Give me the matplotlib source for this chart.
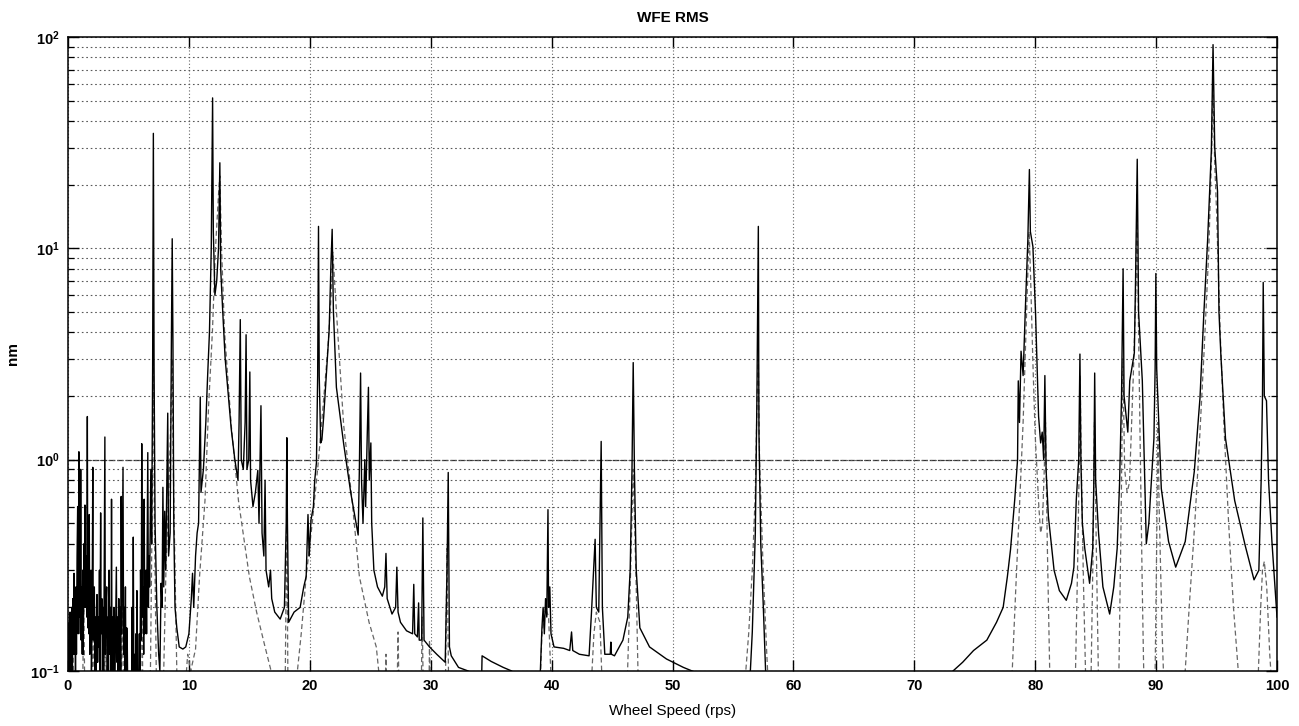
import matplotlib
matplotlib.use("Agg")
import matplotlib.pyplot as plt
from matplotlib.ticker import LogLocator, NullFormatter

# ---- data (wheel speed [rps], WFE RMS [nm]) ----
# values below 0.1 lie under the axis floor and are clipped
solid_points = [
    (0.0, 0.07), (0.05, 0.14), (0.08, 0.07), (0.1, 0.17), (0.13, 0.08), (0.17, 0.19), (0.2, 0.09),
    (0.24, 0.16), (0.28, 0.1), (0.32, 0.2), (0.36, 0.09), (0.4, 0.22), (0.44, 0.12), (0.5, 0.29),
    (0.54, 0.12), (0.58, 0.2), (0.62, 0.1), (0.66, 0.25), (0.7, 0.12), (0.75, 0.35), (0.8, 0.6),
    (0.84, 0.15), (0.9, 1.09), (0.94, 0.18), (0.98, 0.3), (1.02, 0.15), (1.05, 0.9), (1.09, 0.14),
    (1.14, 0.25), (1.18, 0.12), (1.22, 0.3), (1.26, 0.12), (1.32, 0.4), (1.36, 0.2), (1.4, 0.61),
    (1.44, 0.2), (1.5, 0.35), (1.55, 0.18), (1.6, 1.6), (1.64, 0.16), (1.68, 0.3), (1.72, 0.15),
    (1.76, 0.55), (1.8, 0.12), (1.85, 0.22), (1.9, 0.3), (1.94, 0.1), (2.0, 0.2), (2.05, 0.92),
    (2.09, 0.14), (2.14, 0.2), (2.18, 0.25), (2.22, 0.1), (2.27, 0.18), (2.32, 0.08), (2.36, 0.2),
    (2.4, 0.23), (2.45, 0.11), (2.5, 0.18), (2.55, 0.13), (2.6, 0.3), (2.64, 0.1), (2.7, 0.56),
    (2.74, 0.15), (2.8, 0.22), (2.85, 0.1), (2.9, 0.2), (2.95, 0.09), (3.05, 1.28), (3.09, 0.12),
    (3.14, 0.2), (3.2, 0.25), (3.25, 0.08), (3.3, 0.18), (3.35, 0.1), (3.4, 0.3), (3.45, 0.12),
    (3.52, 0.2), (3.56, 0.1), (3.6, 0.65), (3.64, 0.1), (3.7, 0.18), (3.76, 0.08), (3.8, 0.2),
    (3.86, 0.07), (3.93, 0.15), (4.0, 0.31), (4.05, 0.11), (4.1, 0.18), (4.15, 0.09), (4.2, 0.22),
    (4.26, 0.09), (4.32, 0.2), (4.36, 0.1), (4.4, 0.67), (4.45, 0.15), (4.55, 0.92), (4.6, 0.12),
    (4.66, 0.2), (4.7, 0.1), (4.75, 0.25), (4.8, 0.08), (4.86, 0.16), (4.9, 0.14), (4.95, 0.07),
    (5.25, 0.07), (5.3, 0.2), (5.34, 0.07), (5.4, 0.43), (5.45, 0.08), (5.52, 0.12), (5.56, 0.07),
    (5.62, 0.15), (5.66, 0.08), (5.7, 0.24), (5.75, 0.07), (5.85, 0.1), (5.9, 0.15), (5.95, 0.08),
    (6.0, 0.3), (6.06, 0.14), (6.1, 1.19), (6.15, 0.18), (6.22, 0.25), (6.26, 0.12), (6.3, 0.65),
    (6.35, 0.15), (6.4, 0.25), (6.45, 0.3), (6.5, 0.15), (6.55, 0.4), (6.6, 1.08), (6.65, 0.2),
    (6.7, 0.35), (6.75, 0.25), (6.8, 0.5), (6.85, 0.9), (6.92, 0.4), (7.0, 2.7), (7.06, 35.0),
    (7.12, 2.7), (7.2, 0.5), (7.35, 0.2), (7.5, 0.12), (7.6, 0.1), (7.7, 0.26), (7.78, 0.2),
    (7.85, 0.74), (7.92, 0.25), (8.0, 0.57), (8.08, 0.3), (8.25, 1.66), (8.32, 0.35), (8.45, 0.45),
    (8.55, 3.56), (8.62, 11.1), (8.68, 3.56), (8.75, 0.5), (8.85, 0.2), (9.0, 0.16), (9.2, 0.13),
    (9.5, 0.127), (9.74, 0.13), (10.0, 0.15), (10.2, 0.22), (10.3, 0.29), (10.4, 0.2), (10.55, 0.35),
    (10.68, 0.45), (10.8, 0.5), (10.94, 1.98), (11.0, 0.7), (11.2, 0.9), (11.4, 1.5), (11.55, 2.5),
    (11.7, 4.0), (11.85, 10.0), (11.96, 51.5), (12.02, 12.0), (12.15, 6.0), (12.3, 7.0),
    (12.45, 10.0), (12.56, 25.4), (12.63, 8.0), (12.8, 5.0), (13.0, 3.0), (13.2, 2.2), (13.5, 1.4),
    (13.8, 1.0), (14.06, 0.8), (14.15, 1.5), (14.25, 4.6), (14.33, 1.0), (14.5, 0.9), (14.65, 1.5),
    (14.73, 3.9), (14.8, 0.9), (14.95, 1.0), (15.04, 2.6), (15.1, 0.8), (15.3, 0.6), (15.5, 0.7),
    (15.7, 0.89), (15.8, 0.5), (15.96, 1.8), (16.05, 0.45), (16.2, 0.35), (16.3, 0.8), (16.38, 0.3),
    (16.6, 0.25), (16.75, 0.3), (16.85, 0.22), (17.1, 0.19), (17.55, 0.176), (17.9, 0.2),
    (18.05, 0.5), (18.1, 1.27), (18.15, 0.5), (18.25, 0.17), (18.7, 0.19), (19.2, 0.2),
    (19.5, 0.25), (19.7, 0.28), (19.85, 0.55), (19.95, 0.35), (20.1, 0.52), (20.3, 0.6),
    (20.4, 0.79), (20.55, 0.97), (20.65, 2.5), (20.72, 12.7), (20.78, 2.5), (20.9, 1.2),
    (21.0, 1.24), (21.15, 1.6), (21.3, 2.2), (21.5, 3.4), (21.6, 4.1), (21.75, 8.4), (21.85, 12.3),
    (21.95, 5.1), (22.2, 2.2), (22.8, 1.19), (23.4, 0.69), (24.0, 0.44), (24.1, 0.9), (24.2, 2.57),
    (24.28, 0.8), (24.4, 0.5), (24.55, 1.0), (24.62, 0.6), (24.75, 1.3), (24.85, 2.2), (24.92, 0.8),
    (25.05, 1.2), (25.12, 0.5), (25.3, 0.3), (25.6, 0.25), (26.0, 0.226), (26.2, 0.25),
    (26.3, 0.36), (26.4, 0.22), (26.8, 0.186), (27.1, 0.2), (27.2, 0.31), (27.3, 0.19),
    (27.5, 0.17), (28.0, 0.155), (28.5, 0.15), (28.6, 0.257), (28.68, 0.15), (28.9, 0.145),
    (29.0, 0.21), (29.05, 0.14), (29.25, 0.14), (29.35, 0.53), (29.45, 0.14), (29.9, 0.13),
    (30.5, 0.12), (31.2, 0.11), (31.35, 0.3), (31.45, 0.87), (31.55, 0.13), (31.7, 0.118),
    (32.3, 0.104), (33.1, 0.1), (33.8, 0.09), (34.2, 0.085), (34.25, 0.118), (35.0, 0.111),
    (36.0, 0.104), (36.7, 0.1), (37.5, 0.09), (38.5, 0.08), (39.07, 0.1), (39.2, 0.16), (39.3, 0.2),
    (39.4, 0.15), (39.5, 0.22), (39.6, 0.18), (39.7, 0.58), (39.75, 0.2), (39.85, 0.25),
    (39.95, 0.15), (40.2, 0.13), (41.0, 0.128), (41.5, 0.125), (41.65, 0.153), (41.75, 0.125),
    (42.3, 0.12), (43.1, 0.118), (43.3, 0.19), (43.6, 0.42), (43.7, 0.2), (43.9, 0.19),
    (44.1, 1.22), (44.2, 0.2), (44.4, 0.12), (44.85, 0.12), (44.9, 0.137), (44.95, 0.12),
    (45.2, 0.118), (45.9, 0.14), (46.3, 0.18), (46.5, 0.3), (46.65, 0.9), (46.75, 2.88),
    (46.85, 0.9), (47.0, 0.3), (47.3, 0.16), (48.1, 0.13), (49.5, 0.114), (50.9, 0.104),
    (52.0, 0.098), (53.0, 0.09), (55.0, 0.08), (56.4, 0.09), (56.6, 0.153), (56.85, 0.45),
    (56.98, 1.9), (57.05, 5.7), (57.1, 12.7), (57.15, 1.34), (57.3, 0.4), (57.5, 0.21),
    (57.7, 0.1), (58.0, 0.07), (70.0, 0.05), (72.5, 0.09), (73.2, 0.1), (74.0, 0.11),
    (74.9, 0.125), (76.0, 0.14), (76.8, 0.17), (77.35, 0.2), (77.7, 0.28), (77.96, 0.376),
    (78.31, 0.65), (78.54, 1.0), (78.6, 2.36), (78.7, 1.5), (78.83, 3.26), (79.0, 2.5),
    (79.19, 5.26), (79.39, 10.9), (79.52, 23.6), (79.6, 12.0), (79.81, 10.2), (80.03, 4.9),
    (80.28, 1.6), (80.45, 1.2), (80.58, 1.35), (80.7, 1.0), (80.8, 2.5), (80.9, 0.9),
    (81.09, 0.54), (81.56, 0.3), (82.0, 0.24), (82.57, 0.216), (83.0, 0.26), (83.2, 0.31),
    (83.4, 0.65), (83.6, 1.0), (83.7, 3.16), (83.78, 1.0), (83.9, 0.5), (84.1, 0.38), (84.5, 0.26),
    (84.76, 0.38), (84.85, 0.8), (84.92, 2.57), (85.0, 0.8), (85.24, 0.45), (85.6, 0.25),
    (86.16, 0.186), (86.5, 0.25), (86.78, 0.38), (86.98, 0.78), (87.14, 2.0), (87.27, 8.0),
    (87.35, 2.0), (87.66, 1.35), (87.82, 2.36), (88.2, 3.2), (88.3, 7.06), (88.44, 26.4),
    (88.55, 5.0), (88.86, 2.36), (89.19, 0.4), (89.4, 0.5), (89.6, 0.78), (89.82, 1.26),
    (89.92, 2.7), (89.98, 7.6), (90.05, 2.7), (90.43, 0.73), (91.03, 0.41), (91.62, 0.31),
    (92.41, 0.41), (93.16, 0.88), (93.63, 1.96), (93.94, 4.8), (94.26, 10.9), (94.57, 29.0),
    (94.71, 92.0), (94.85, 30.0), (95.08, 18.6), (95.2, 5.0), (95.36, 3.1), (95.74, 1.26),
    (96.5, 0.64), (97.38, 0.39), (98.1, 0.27), (98.5, 0.3), (98.69, 0.8), (98.8, 2.0),
    (98.86, 6.9), (98.95, 2.0), (99.13, 1.9), (99.3, 0.8), (99.58, 0.41), (100.0, 0.18),
]

dashed_points = [
    (0.0, 0.07), (0.3, 0.07), (0.4, 0.15), (0.5, 0.07), (1.2, 0.07), (1.3, 0.22), (1.4, 0.07),
    (2.0, 0.07), (2.1, 0.2), (2.2, 0.07), (3.0, 0.07), (3.1, 0.18), (3.2, 0.07), (4.4, 0.07),
    (4.5, 0.25), (4.6, 0.07), (6.0, 0.07), (6.1, 0.3), (6.2, 0.07), (6.8, 0.08), (6.95, 0.5),
    (7.06, 3.0), (7.15, 0.5), (7.3, 0.1), (7.6, 0.07), (7.9, 0.09), (8.1, 0.3), (8.3, 0.6),
    (8.5, 1.5), (8.62, 3.0), (8.7, 1.0), (8.85, 0.3), (9.0, 0.1), (9.1, 0.07), (9.6, 0.07),
    (9.9, 0.12), (10.15, 0.1), (10.55, 0.127), (10.88, 0.28), (11.33, 0.64), (11.63, 1.8),
    (11.95, 4.1), (12.2, 10.0), (12.45, 18.0), (12.56, 22.0), (12.7, 10.0), (12.95, 4.0),
    (13.5, 1.46), (14.1, 0.64), (15.0, 0.28), (15.6, 0.19), (16.3, 0.13), (17.0, 0.09),
    (17.2, 0.07), (17.95, 0.07), (18.05, 0.3), (18.1, 0.6), (18.2, 0.07), (18.8, 0.08),
    (19.29, 0.15), (19.7, 0.28), (20.2, 0.5), (20.7, 0.97), (21.1, 1.8), (21.5, 3.4), (21.8, 6.5),
    (21.9, 9.6), (22.3, 4.1), (22.8, 1.46), (23.5, 0.64), (24.1, 0.28), (24.9, 0.17), (25.5, 0.13),
    (25.7, 0.1), (25.8, 0.07), (26.2, 0.07), (26.3, 0.12), (26.4, 0.07), (27.2, 0.07),
    (27.3, 0.153), (27.4, 0.07), (29.2, 0.07), (29.3, 0.18), (29.4, 0.07), (29.85, 0.07),
    (29.9, 0.14), (30.0, 0.07), (31.2, 0.07), (31.35, 0.38), (31.5, 0.07), (39.0, 0.07),
    (39.2, 0.15), (39.5, 0.2), (39.75, 0.18), (40.0, 0.08), (43.2, 0.07), (43.5, 0.15),
    (43.7, 0.19), (44.0, 0.17), (44.2, 0.08), (46.2, 0.07), (46.5, 0.25), (46.75, 0.9),
    (47.0, 0.25), (47.2, 0.07), (56.0, 0.09), (56.3, 0.15), (56.6, 0.3), (56.85, 0.7), (57.0, 2.0),
    (57.1, 3.0), (57.2, 1.0), (57.5, 0.3), (57.8, 0.12), (58.0, 0.07), (78.0, 0.07), (78.1, 0.1),
    (78.4, 0.25), (78.7, 0.6), (79.0, 1.5), (79.2, 3.5), (79.4, 8.0), (79.5, 12.0), (79.6, 8.0),
    (79.8, 3.0), (80.0, 1.3), (80.3, 0.6), (80.45, 0.45), (80.6, 0.5), (80.75, 0.9), (80.85, 1.5),
    (81.0, 0.4), (81.2, 0.1), (81.4, 0.06), (83.3, 0.08), (83.5, 0.3), (83.65, 1.0), (83.72, 2.5),
    (83.8, 1.0), (84.0, 0.25), (84.2, 0.08), (84.6, 0.08), (84.78, 0.35), (84.9, 1.5),
    (85.05, 0.4), (85.25, 0.08), (86.9, 0.08), (87.1, 0.5), (87.25, 3.0), (87.4, 0.9), (87.6, 0.7),
    (87.8, 0.78), (88.1, 2.36), (88.35, 7.0), (88.42, 18.0), (88.55, 4.0), (88.7, 1.0),
    (88.85, 0.26), (88.95, 0.12), (89.05, 0.06), (89.9, 0.08), (90.05, 0.4), (90.15, 1.5),
    (90.25, 0.6), (90.5, 0.15), (90.7, 0.07), (92.3, 0.08), (92.76, 0.21), (93.2, 0.5),
    (93.6, 1.26), (93.95, 3.1), (94.35, 9.5), (94.6, 29.0), (94.7, 60.0), (94.85, 25.0),
    (95.0, 15.0), (95.3, 4.0), (95.6, 1.5), (96.0, 0.5), (96.4, 0.2), (96.8, 0.1), (97.0, 0.07),
    (98.4, 0.08), (98.65, 0.2), (98.8, 0.3), (98.95, 0.33), (99.15, 0.25), (99.4, 0.12),
    (99.6, 0.08), (100.0, 0.07),
]

x_ticks = [0, 10, 20, 30, 40, 50, 60, 70, 80, 90, 100]
title_text = "WFE RMS"
x_label = "Wheel Speed (rps)"
y_label = "nm"

solid_x = [p[0] for p in solid_points]
solid_y = [p[1] for p in solid_points]
dashed_x = [p[0] for p in dashed_points]
dashed_y = [p[1] for p in dashed_points]

plt.rcParams['font.family'] = ['Liberation Sans', 'DejaVu Sans']
plt.rcParams['mathtext.fontset'] = 'custom'
plt.rcParams['mathtext.rm'] = 'Liberation Sans:bold'
plt.rcParams['mathtext.it'] = 'Liberation Sans:bold'
plt.rcParams['mathtext.bf'] = 'Liberation Sans:bold'

fig = plt.figure(figsize=(12.99, 7.26), dpi=100)
ax = fig.add_axes([68 / 1299, 1 - 671 / 726, (1277 - 68) / 1299, (671 - 37) / 726])

ax.set_yscale('log')
ax.set_xlim(0, 100)
ax.set_ylim(0.1, 100)

# grid
ax.yaxis.set_major_locator(LogLocator(base=10))
ax.yaxis.set_minor_locator(LogLocator(base=10, subs=range(2, 10)))
ax.yaxis.set_minor_formatter(NullFormatter())
ax.set_xticks(x_ticks)
ax.grid(True, which='major', axis='x', color='0.4', linestyle=(0, (1, 2)), linewidth=0.8)
ax.grid(True, which='both', axis='y', color='0.35', linestyle=(0, (1.5, 2.5)), linewidth=0.8)
ax.axhline(1.0, color='0.2', linestyle=(0, (5, 1.5)), linewidth=0.9, zorder=1)

ax.plot(dashed_x, dashed_y, color='0.4', linestyle=(0, (4, 2.5)), linewidth=0.9, zorder=2)
ax.plot(solid_x, solid_y, color='black', linewidth=1.0, zorder=3)

ax.tick_params(axis='both', which='major', direction='in', length=8, width=1.0,
               top=True, right=True, labelsize=10.5, pad=6)
ax.tick_params(axis='y', which='minor', direction='in', length=4, width=0.9,
               left=True, right=True)
for lbl in ax.get_xticklabels() + ax.get_yticklabels():
    lbl.set_fontweight('bold')
for s in ax.spines.values():
    s.set_linewidth(1.1)

ax.set_title(title_text, fontsize=11, fontweight='bold', pad=11)
ax.set_xlabel(x_label, fontsize=11, labelpad=8)
ax.set_ylabel(y_label, fontsize=11, fontweight='bold')
ax.yaxis.set_label_coords(-0.04, 0.5)

fig.savefig("out.png", dpi=100, facecolor='white')
